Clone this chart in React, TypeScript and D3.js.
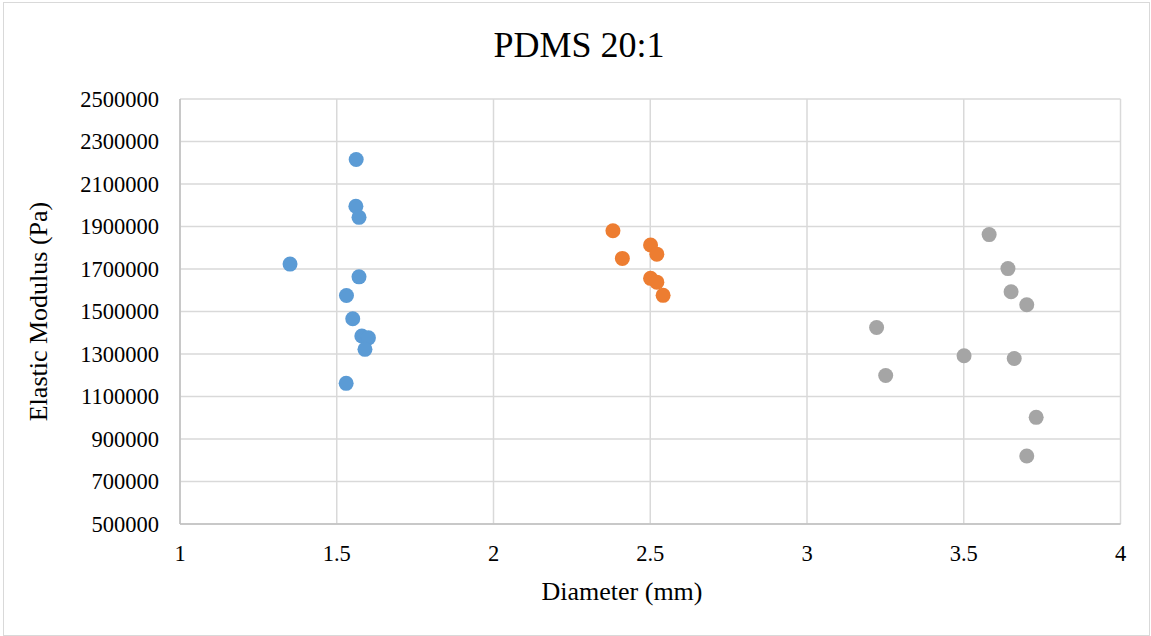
import React from "react";
import * as d3 from "d3";

const blueX = [1.562, 1.561, 1.571, 1.351, 1.571, 1.531, 1.551, 1.58, 1.601, 1.59, 1.53];
const blueY = [2215000, 1995000, 1943000, 1723000, 1663000, 1575000, 1466000, 1385000, 1376000, 1322000, 1162000];
const orangeX = [2.381, 2.501, 2.521, 2.411, 2.501, 2.521, 2.541];
const orangeY = [1880000, 1813000, 1770000, 1750000, 1656000, 1638000, 1576000];
const grayX = [3.581, 3.641, 3.651, 3.701, 3.222, 3.501, 3.661, 3.251, 3.731, 3.701];
const grayY = [1862000, 1702000, 1593000, 1532000, 1425000, 1292000, 1279000, 1199000, 1002000, 820000];
const xTicks = [1, 1.5, 2, 2.5, 3, 3.5, 4];
const yTicks = [500000, 700000, 900000, 1100000, 1300000, 1500000, 1700000, 1900000, 2100000, 2300000, 2500000];

const series = [
  { xs: blueX, ys: blueY, color: "#5B9BD5" },
  { xs: orangeX, ys: orangeY, color: "#ED7D31" },
  { xs: grayX, ys: grayY, color: "#A5A5A5" },
];

const W = 1151, H = 636;
const L = 180, R = 1120.5, T = 99, B = 524;
const font = "'Liberation Serif', 'Times New Roman', serif";

export default function App() {
  const x = d3.scaleLinear().domain([1, 4]).range([L, R]);
  const y = d3.scaleLinear().domain([500000, 2500000]).range([B, T]);
  const ts = { fontFamily: font };
  return (
    <svg width={W} height={H} style={{ position: "absolute", left: 0, top: 0, background: "#fff" }}>
      <rect x={3.5} y={2.5} width={W - 5} height={H - 3} fill="#fff" stroke="#D9D9D9" strokeWidth={1} />
      {yTicks.map((t) => (
        <line key={"gy" + t} x1={L} x2={R} y1={y(t)} y2={y(t)} stroke="#D9D9D9" strokeWidth={1.5} />
      ))}
      {xTicks.map((t) => (
        <line key={"gx" + t} x1={x(t)} x2={x(t)} y1={T} y2={B} stroke="#D9D9D9" strokeWidth={1.5} />
      ))}
      <line x1={L} x2={R} y1={B} y2={B} stroke="#BFBFBF" strokeWidth={1.5} />
      <line x1={L} x2={L} y1={T} y2={B} stroke="#BFBFBF" strokeWidth={1.5} />
      {yTicks.map((t) => (
        <text key={"ly" + t} style={ts} x={159} y={y(t)} dy="0.35em" textAnchor="end" fontSize={22.5} fill="#000">{t}</text>
      ))}
      {xTicks.map((t) => (
        <text key={"lx" + t} style={ts} x={x(t)} y={561} textAnchor="middle" fontSize={22.5} fill="#000">{t}</text>
      ))}
      {series.map((s, si) =>
        s.xs.map((xv, i) => (
          <circle key={si + "-" + i} cx={x(xv)} cy={y(s.ys[i])} r={7.5} fill={s.color} />
        ))
      )}
      <text style={ts} x={579} y={57} textAnchor="middle" fontSize={36} fill="#000">PDMS 20:1</text>
      <text style={ts} x={622} y={600} textAnchor="middle" fontSize={26} fill="#000">Diameter (mm)</text>
      <text style={ts} transform={`translate(47,${(T + B) / 2}) rotate(-90)`} textAnchor="middle" fontSize={26} fill="#000">Elastic Modulus (Pa)</text>
    </svg>
  );
}
